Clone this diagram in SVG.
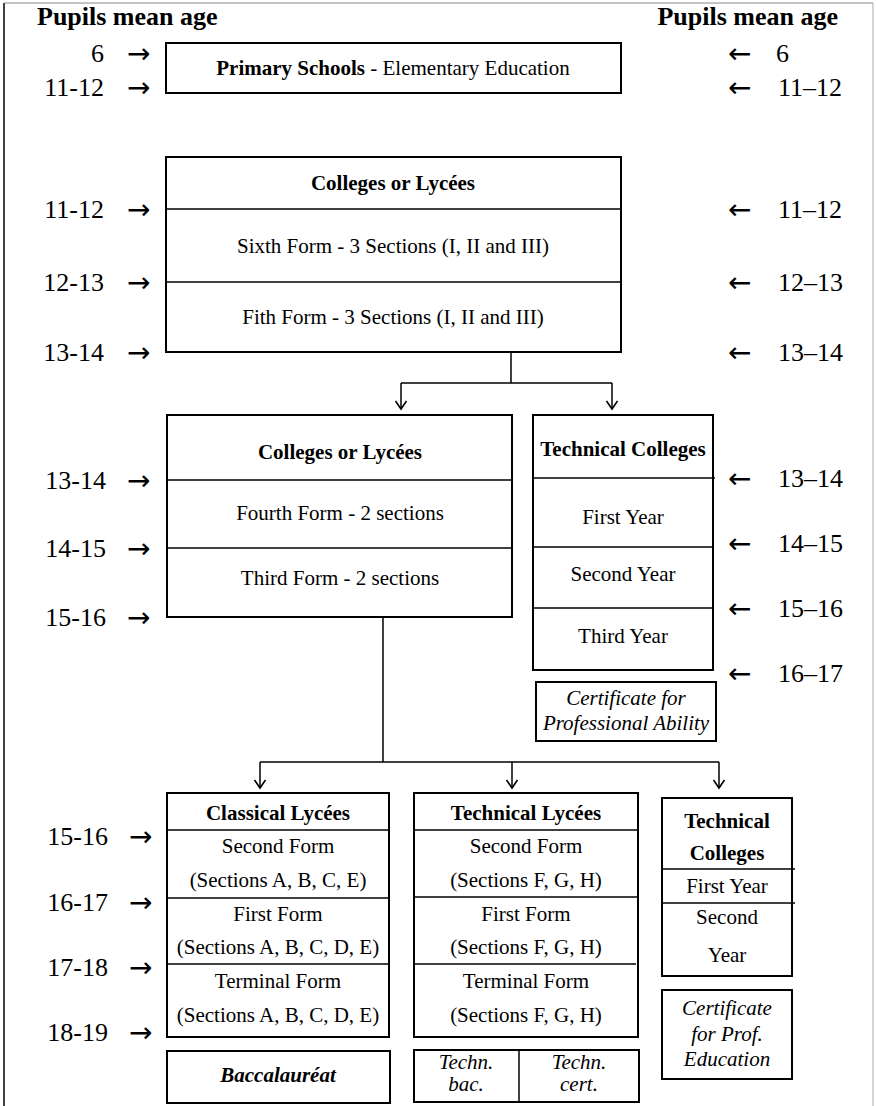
<svg xmlns="http://www.w3.org/2000/svg" width="876" height="1106" viewBox="0 0 876 1106">
<style>
text{font-family:"Liberation Serif","Times New Roman",serif;fill:#000}
.c{font-size:21px;text-anchor:middle}
.b{font-weight:bold}
.i{font-style:italic}
.h{font-size:26px;font-weight:bold}
.n{font-size:26px}
.ne{font-size:26px;text-anchor:end}
.a{font-size:28px;font-family:"DejaVu Sans",sans-serif;font-weight:normal}
.box{fill:#fff;stroke:#000;stroke-width:2}
.dv{stroke:#000;stroke-width:1.5;fill:none}
.con{fill:none;stroke:#000;stroke-width:1.5}
</style>
<defs>
<marker id="ah" markerUnits="userSpaceOnUse" viewBox="-10 -7 14 14" markerWidth="14" markerHeight="14" refX="0" refY="0" orient="auto" overflow="visible">
<path d="M-8,-5.5 L0,0 L-8,5.5" fill="none" stroke="#000" stroke-width="1.6"/>
</marker>
</defs>
<rect width="876" height="1106" fill="#fff"/>
<g id="frame">
<line x1="4" y1="3" x2="4" y2="1106" stroke="#000" stroke-width="1.5"/>
<line x1="4" y1="3" x2="873" y2="3" stroke="#888" stroke-width="1"/>
<line x1="873" y1="3" x2="873" y2="1106" stroke="#aaa" stroke-width="1"/>
</g>
<g id="ages-left">
<text class="h" x="37" y="25">Pupils mean age</text>
<text class="ne" x="104" y="62">6</text><text class="a" x="127" y="63">→</text>
<text class="ne" x="104" y="96">11-12</text><text class="a" x="127" y="97">→</text>
<text class="ne" x="104" y="218">11-12</text><text class="a" x="127" y="219">→</text>
<text class="ne" x="104" y="291">12-13</text><text class="a" x="127" y="292">→</text>
<text class="ne" x="104" y="361">13-14</text><text class="a" x="127" y="362">→</text>
<text class="ne" x="106" y="489">13-14</text><text class="a" x="127" y="490">→</text>
<text class="ne" x="106" y="557">14-15</text><text class="a" x="127" y="558">→</text>
<text class="ne" x="106" y="626">15-16</text><text class="a" x="127" y="627">→</text>
<text class="ne" x="108" y="845">15-16</text><text class="a" x="129" y="846">→</text>
<text class="ne" x="108" y="911">16-17</text><text class="a" x="129" y="912">→</text>
<text class="ne" x="108" y="976">17-18</text><text class="a" x="129" y="977">→</text>
<text class="ne" x="108" y="1041">18-19</text><text class="a" x="129" y="1042">→</text>
</g>
<g id="ages-right">
<text class="h" x="838" y="25" text-anchor="end">Pupils mean age</text>
<text class="a" x="728" y="63">←</text><text class="n" x="776" y="62">6</text>
<text class="a" x="728" y="97">←</text><text class="n" x="778" y="96">11–12</text>
<text class="a" x="728" y="219">←</text><text class="n" x="778" y="218">11–12</text>
<text class="a" x="728" y="292">←</text><text class="n" x="778" y="291">12–13</text>
<text class="a" x="728" y="362">←</text><text class="n" x="778" y="361">13–14</text>
<text class="a" x="728" y="488">←</text><text class="n" x="778" y="487">13–14</text>
<text class="a" x="728" y="553">←</text><text class="n" x="778" y="552">14–15</text>
<text class="a" x="728" y="618">←</text><text class="n" x="778" y="617">15–16</text>
<text class="a" x="728" y="683">←</text><text class="n" x="778" y="682">16–17</text>
</g>
<g id="primary">
<rect class="box" x="166" y="43" width="455" height="50"/>
<text class="c" x="393" y="75"><tspan class="b">Primary Schools</tspan> - Elementary Education</text>
</g>
<g id="colleges1">
<rect class="box" x="166" y="157" width="455" height="195"/>
<line class="dv" x1="166" y1="209" x2="621" y2="209"/>
<line class="dv" x1="166" y1="282" x2="621" y2="282"/>
<text class="c b" x="393" y="190">Colleges or Lycées</text>
<text class="c" x="393" y="253">Sixth Form - 3 Sections (I, II and III)</text>
<text class="c" x="393" y="324">Fith Form - 3 Sections (I, II and III)</text>
</g>
<g id="colleges2">
<rect class="box" x="167" y="415" width="345" height="202"/>
<line class="dv" x1="167" y1="480" x2="512" y2="480"/>
<line class="dv" x1="167" y1="548" x2="512" y2="548"/>
<text class="c b" x="340" y="459">Colleges or Lycées</text>
<text class="c" x="340" y="520">Fourth Form - 2 sections</text>
<text class="c" x="340" y="585">Third Form - 2 sections</text>
</g>
<g id="techcolleges1">
<rect class="box" x="533" y="415" width="180" height="255"/>
<line class="dv" x1="533" y1="478" x2="715" y2="478"/>
<line class="dv" x1="533" y1="547" x2="713" y2="547"/>
<line class="dv" x1="533" y1="608" x2="713" y2="608"/>
<text class="c b" x="623" y="456">Technical Colleges</text>
<text class="c" x="623" y="524">First Year</text>
<text class="c" x="623" y="581">Second Year</text>
<text class="c" x="623" y="643">Third Year</text>
</g>
<g id="cert1">
<rect class="box" x="536" y="682" width="180" height="59"/>
<text class="c i" x="626" y="705">Certificate for</text>
<text class="c i" x="626" y="730">Professional Ability</text>
</g>
<g id="classical">
<rect class="box" x="167" y="793" width="222" height="244"/>
<line class="dv" x1="167" y1="830" x2="389" y2="830"/>
<line class="dv" x1="167" y1="898" x2="389" y2="898"/>
<line class="dv" x1="167" y1="964" x2="389" y2="964"/>
<text class="c b" x="278" y="820">Classical Lycées</text>
<text class="c" x="278" y="853">Second Form</text>
<text class="c" x="278" y="887">(Sections A, B, C, E)</text>
<text class="c" x="278" y="921">First Form</text>
<text class="c" x="278" y="954">(Sections A, B, C, D, E)</text>
<text class="c" x="278" y="988">Terminal Form</text>
<text class="c" x="278" y="1022">(Sections A, B, C, D, E)</text>
</g>
<g id="bac">
<rect class="box" x="167" y="1051" width="223" height="52"/>
<text class="c b i" x="278" y="1082">Baccalauréat</text>
</g>
<g id="techlycees">
<rect class="box" x="414" y="793" width="224" height="244"/>
<line class="dv" x1="414" y1="830" x2="638" y2="830"/>
<line class="dv" x1="414" y1="897" x2="638" y2="897"/>
<line class="dv" x1="414" y1="964" x2="636" y2="964"/>
<text class="c b" x="526" y="820">Technical Lycées</text>
<text class="c" x="526" y="853">Second Form</text>
<text class="c" x="526" y="887">(Sections F, G, H)</text>
<text class="c" x="526" y="921">First Form</text>
<text class="c" x="526" y="954">(Sections F, G, H)</text>
<text class="c" x="526" y="988">Terminal Form</text>
<text class="c" x="526" y="1022">(Sections F, G, H)</text>
</g>
<g id="techn">
<rect class="box" x="414" y="1050" width="225" height="52"/>
<line class="dv" x1="519" y1="1050" x2="519" y2="1102"/>
<text class="c i" x="466" y="1069">Techn.</text>
<text class="c i" x="466" y="1091">bac.</text>
<text class="c i" x="579" y="1069">Techn.</text>
<text class="c i" x="579" y="1091">cert.</text>
</g>
<g id="techcolleges2">
<rect class="box" x="662" y="798" width="130" height="178"/>
<line class="dv" x1="662" y1="869" x2="795" y2="869"/>
<line class="dv" x1="662" y1="903" x2="795" y2="903"/>
<text class="c b" x="727" y="828">Technical</text>
<text class="c b" x="727" y="860">Colleges</text>
<text class="c" x="727" y="893">First Year</text>
<text class="c" x="727" y="924">Second</text>
<text class="c" x="727" y="962">Year</text>
</g>
<g id="cert2">
<rect class="box" x="662" y="990" width="130" height="89"/>
<text class="c i" x="727" y="1015">Certificate</text>
<text class="c i" x="727" y="1041">for Prof.</text>
<text class="c i" x="727" y="1066">Education</text>
</g>
<g id="connectors">
<path class="con" d="M511,352 V383 M401,383 H612 M383,617 V762 M260,762 H719"/>
<path class="con" d="M401,383 V409" marker-end="url(#ah)"/>
<path class="con" d="M612,383 V409" marker-end="url(#ah)"/>
<path class="con" d="M260,762 V788" marker-end="url(#ah)"/>
<path class="con" d="M512,762 V788" marker-end="url(#ah)"/>
<path class="con" d="M719,762 V788" marker-end="url(#ah)"/>
</g>
</svg>
